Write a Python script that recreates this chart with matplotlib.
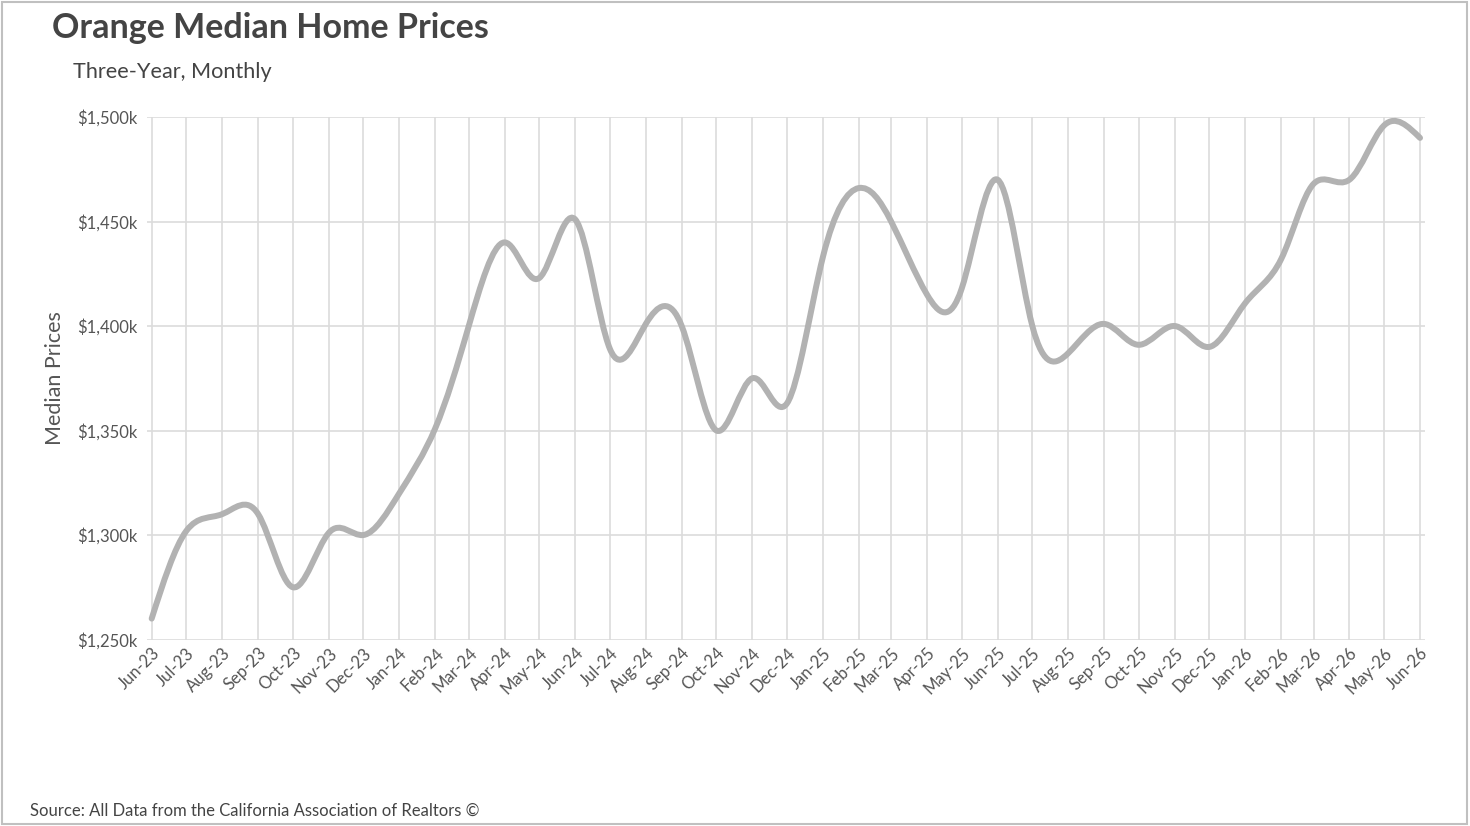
import numpy as np
import pandas as pd
import matplotlib
matplotlib.use("Agg")
import matplotlib.pyplot as plt
import matplotlib.dates as mdates
from matplotlib.path import Path
from matplotlib.patches import PathPatch, Rectangle
from matplotlib.ticker import FuncFormatter, FixedLocator

# ---------------- data ----------------
months = pd.date_range("2023-06-01", "2026-06-01", freq="MS")
prices_k = [1260, 1302, 1310, 1310, 1275, 1301, 1300, 1320, 1351, 1400,
            1440, 1423, 1451, 1389, 1401, 1400, 1350, 1375, 1363, 1433,
            1466, 1450, 1415, 1418, 1470, 1400, 1387, 1401, 1391, 1400,
            1390, 1411, 1432, 1468, 1470, 1496, 1490]
y_ticks = [1250, 1300, 1350, 1400, 1450, 1500]
title = "Orange Median Home Prices"
subtitle = "Three-Year, Monthly"
y_title = "Median Prices"
source = "Source: All Data from the California Association of Realtors \u00a9"

# ---------------- style ----------------
plt.rcParams['font.family'] = ['Lato', 'DejaVu Sans']
W, H = 1470, 826
fig = plt.figure(figsize=(W / 100, H / 100), dpi=100)
fig.patch.set_facecolor("white")

ax = fig.add_axes([146.7 / W, 186.5 / H, 1278.3 / W, 522.5 / H])
xnum = mdates.date2num(months.to_pydatetime())
ax.set_xlim(xnum[0] - 4.3, xnum[-1] + 4.3)
ax.set_ylim(y_ticks[0], y_ticks[-1])

for s in ax.spines.values():
    s.set_visible(False)
ax.xaxis.set_major_locator(FixedLocator(xnum))
ax.xaxis.set_major_formatter(mdates.DateFormatter("%b-%y"))
ax.set_yticks(y_ticks)
ax.yaxis.set_major_formatter(FuncFormatter(lambda v, p: f"${v:,.0f}k"))
ax.grid(True, color="#dcdcdc", linewidth=1.2)
ax.set_axisbelow(True)
ax.tick_params(axis="both", length=0, labelsize=12, labelcolor="#555555")
ax.tick_params(axis="y", pad=7)
ax.tick_params(axis="x", pad=4)
for lab in ax.get_xticklabels():
    lab.set_rotation(45)
    lab.set_ha("right")
    lab.set_rotation_mode("anchor")


# ---------------- natural-spline Bezier path through the data points ----------------
def natural_controls(v):
    v = np.asarray(v, dtype=float)
    n = len(v) - 1
    a = np.zeros(n); b = np.zeros(n); r = np.zeros(n)
    a[0], b[0], r[0] = 0, 2, v[0] + 2 * v[1]
    for i in range(1, n - 1):
        a[i], b[i], r[i] = 1, 4, 4 * v[i] + 2 * v[i + 1]
    a[n - 1], b[n - 1], r[n - 1] = 2, 7, 8 * v[n - 1] + v[n]
    for i in range(1, n):
        m = a[i] / b[i - 1]
        b[i] -= m
        r[i] -= m * r[i - 1]
    a[n - 1] = r[n - 1] / b[n - 1]
    for i in range(n - 2, -1, -1):
        a[i] = (r[i] - a[i + 1]) / b[i]
    b[n - 1] = (v[n] + a[n - 1]) / 2
    for i in range(n - 1):
        b[i] = 2 * v[i + 1] - a[i + 1]
    return a, b


yv = np.asarray(prices_k, dtype=float)
ax0, ax1 = natural_controls(xnum)
ay0, ay1 = natural_controls(yv)
verts = [(xnum[0], yv[0])]
codes = [Path.MOVETO]
for i in range(len(yv) - 1):
    verts += [(ax0[i], ay0[i]), (ax1[i], ay1[i]), (xnum[i + 1], yv[i + 1])]
    codes += [Path.CURVE4] * 3
patch = PathPatch(Path(np.array(verts), codes), facecolor="none",
                  edgecolor="#b2b2b2", linewidth=4.3, capstyle="round",
                  joinstyle="round", transform=ax.transData, zorder=3)
ax.add_patch(patch)

# ---------------- texts ----------------
fig.text(52 / W, 1 - 38 / H, title, fontsize=24.5, fontweight="bold",
         color="#444444", ha="left", va="baseline")
fig.text(73 / W, 1 - 78 / H, subtitle, fontsize=15.6, color="#444444",
         ha="left", va="baseline")
fig.text(55 / W, 1 - 378.5 / H, y_title, fontsize=15.5, color="#555555",
         rotation=90, ha="center", va="center")
fig.text(30 / W, 1 - 816 / H, source, fontsize=12, color="#444444",
         ha="left", va="baseline")

# border
fig.patches.append(Rectangle((2 / W, 2 / H), 1465 / W, 822 / H,
                             transform=fig.transFigure, fill=False,
                             edgecolor="#c0c0c0", linewidth=1.5))

fig.savefig("out.png", dpi=100, facecolor="white")
